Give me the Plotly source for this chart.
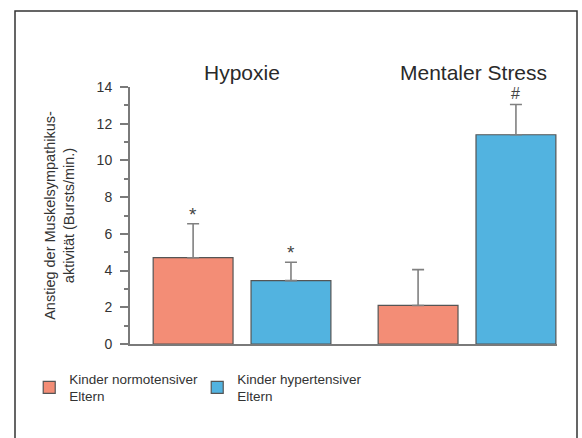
import plotly.graph_objects as go

# Conditions and group values (increase in muscle sympathetic nerve activity, bursts/min)
conditions = ["Hypoxie", "Mentaler Stress"]
normo_values = [4.7, 2.1]
normo_errors = [1.85, 1.95]
hyper_values = [3.45, 11.4]
hyper_errors = [1.0, 1.65]
normo_marks = ["*", ""]
hyper_marks = ["*", "#"]
y_ticks = [0, 2, 4, 6, 8, 10, 12, 14]

salmon = "#F38D76"
blue = "#52B3E0"
edge = "#555555"
axis_grey = "#7a7a7a"
font_family = "Liberation Sans, Arial, sans-serif"

bar_width = 0.355
fig = go.Figure()
fig.add_trace(go.Bar(
    x=conditions, y=normo_values, name="Kinder normotensiver<br>Eltern",
    width=bar_width, offset=-0.395,
    marker=dict(color=salmon, line=dict(color=edge, width=1.2)),
    error_y=dict(type="data", array=normo_errors, arrayminus=[0, 0], symmetric=False,
                 color="#808080", thickness=1.6, width=6),
))
fig.add_trace(go.Bar(
    x=conditions, y=hyper_values, name="Kinder hypertensiver<br>Eltern",
    width=bar_width, offset=0.04,
    marker=dict(color=blue, line=dict(color=edge, width=1.2)),
    error_y=dict(type="data", array=hyper_errors, arrayminus=[0, 0], symmetric=False,
                 color="#808080", thickness=1.6, width=6),
))

# Significance marks above the error bars
annotations = []
for i, cond in enumerate(conditions):
    for vals, errs, marks, off in ((normo_values, normo_errors, normo_marks, -0.395),
                                   (hyper_values, hyper_errors, hyper_marks, 0.04)):
        if marks[i]:
            annotations.append(dict(
                x=i + off + bar_width / 2, xref="x", y=vals[i] + errs[i], yref="y",
                text=marks[i], showarrow=False, yanchor="bottom",
                yshift=-3 if marks[i] == "*" else 0,
                font=dict(size=19 if marks[i] == "*" else 16, color="#444444", family=font_family),
            ))

# Condition headings
for i, cond in enumerate(conditions):
    annotations.append(dict(
        x=i + (0.0 if i == 0 else 0.03), xref="x", y=1.055, yref="paper",
        text=cond, showarrow=False, yanchor="middle",
        font=dict(size=21, color="#2a2a2a", family=font_family),
    ))

fig.update_layout(
    annotations=annotations,
    width=582, height=438,
    margin=dict(l=130, r=25, t=87, b=94),
    paper_bgcolor="white", plot_bgcolor="white",
    font=dict(family=font_family, color="#333333", size=13),
    barmode="group",
    showlegend=True,
    legend=dict(orientation="h", x=-0.236, y=-0.075, xanchor="left", yanchor="top",
                entrywidth=123, entrywidthmode="pixels", traceorder="normal",
                font=dict(size=13.5, color="#333333", family=font_family),
                itemwidth=30, bgcolor="rgba(0,0,0,0)"),
    xaxis=dict(range=[-0.498, 1.4], showticklabels=False, ticks="",
               showline=True, linecolor=axis_grey, linewidth=2, showgrid=False, zeroline=False,
               fixedrange=True),
    yaxis=dict(range=[0, 14], tickvals=y_ticks, ticks="outside", ticklen=8, tickwidth=2,
               tickcolor=axis_grey, showline=True, linecolor=axis_grey, linewidth=2,
               showgrid=False, zeroline=False, ticklabelstandoff=5,
               minor=dict(dtick=1, ticks="outside", ticklen=4, tickwidth=1.5, tickcolor=axis_grey),
               tickfont=dict(size=14, color="#333333"),
               title=dict(text="Anstieg der Muskelsympathikus-<br>aktivität (Bursts/min.)",
                          font=dict(size=14.5, color="#333333"), standoff=19)),
    shapes=[dict(type="rect", xref="paper", yref="paper",
                 x0=(15 - 130) / 427, x1=(577 - 130) / 427,
                 y0=-1.0, y1=(344 - 11) / 257,
                 line=dict(color="#333333", width=1.5), fillcolor="rgba(0,0,0,0)", layer="below")],
)

fig.write_html("out.html")
